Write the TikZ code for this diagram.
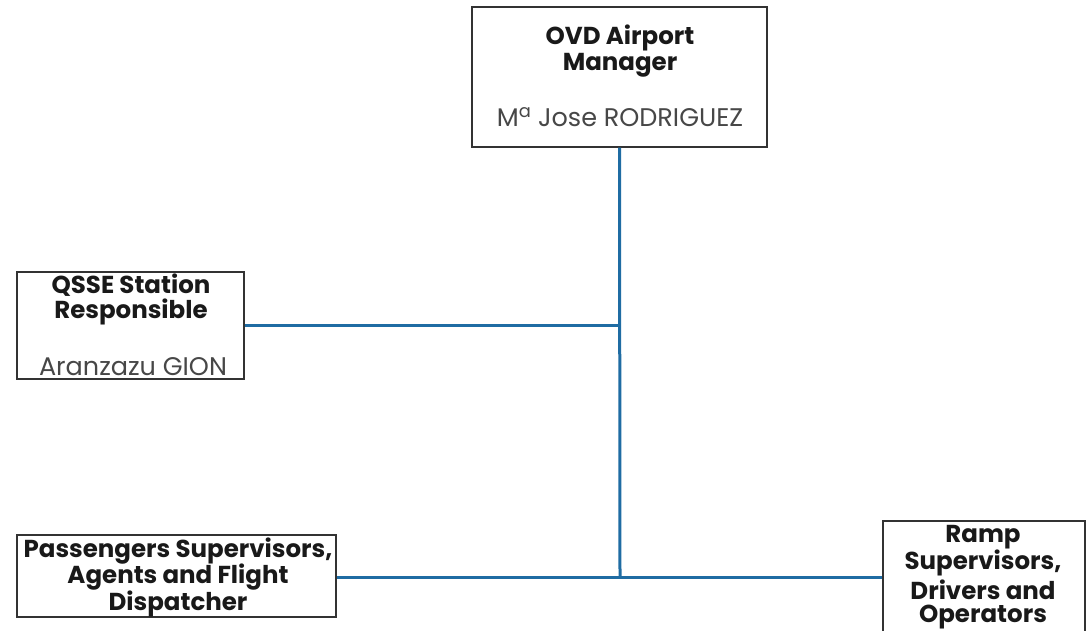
\documentclass[tikz,border=0pt]{standalone}
\usepackage{fontspec}
\setmainfont{Poppins}
\begin{document}
\begin{tikzpicture}[x=1pt,y=-1pt,
  box/.style={draw=black!80,line width=1.4pt,fill=white,inner sep=0pt},
  ttl/.style={font=\fontsize{24.5}{28}\selectfont\bfseries,text=black!90,align=center,inner sep=0pt},
  nm/.style={font=\fontsize{25.5}{28}\selectfont,text=black!72,inner sep=0pt},
  conn/.style={draw=lineblue,line width=3pt}]
\definecolor{lineblue}{HTML}{1F6CA3}
\useasboundingbox[fill=white] (0,0) rectangle (1086,630);
% boxes
\node[box,minimum width=295pt,minimum height=140pt] (top) at (619.5,77) {};
\node[box,minimum width=227pt,minimum height=107pt] (qsse) at (130.5,325.5) {};
\node[box,minimum width=319pt,minimum height=82pt] (pass) at (176.5,576) {};
\node[box,minimum width=202pt,minimum height=120pt] (ramp) at (984,581) {};
% junctions
\coordinate (j1) at (620,325);
\coordinate (j2) at (620,577);
% connectors
\draw[conn] (top.south) -- (j2);
\draw[conn] (qsse.east |- j1) -- (j1);
\draw[conn] (pass.east |- j2) -- (ramp.west |- j2);
% texts
\node[ttl] (t1) at (620,38) {OVD Airport};
\node[ttl] (t2) at (620,65) {Manager};
\node[nm] (t3) at (620,117) {M\textsuperscript{a} Jose RODRIGUEZ};
\node[ttl] (q1) at (131,285) {QSSE Station};
\node[ttl] (q2) at (131,312) {Responsible};
\node[nm] (q3) at (133,367) {Aranzazu GION};
\node[ttl] (p1) at (178,551) {Passengers Supervisors,};
\node[ttl] (p2) at (178,577) {Agents and Flight};
\node[ttl] (p3) at (178,604) {Dispatcher};
\node[ttl] (r1) at (983,537) {Ramp};
\node[ttl] (r2) at (983,563) {Supervisors,};
\node[ttl] (r3) at (983,590) {Drivers and};
\node[ttl] (r4) at (983,617) {Operators};
\end{tikzpicture}
\end{document}
